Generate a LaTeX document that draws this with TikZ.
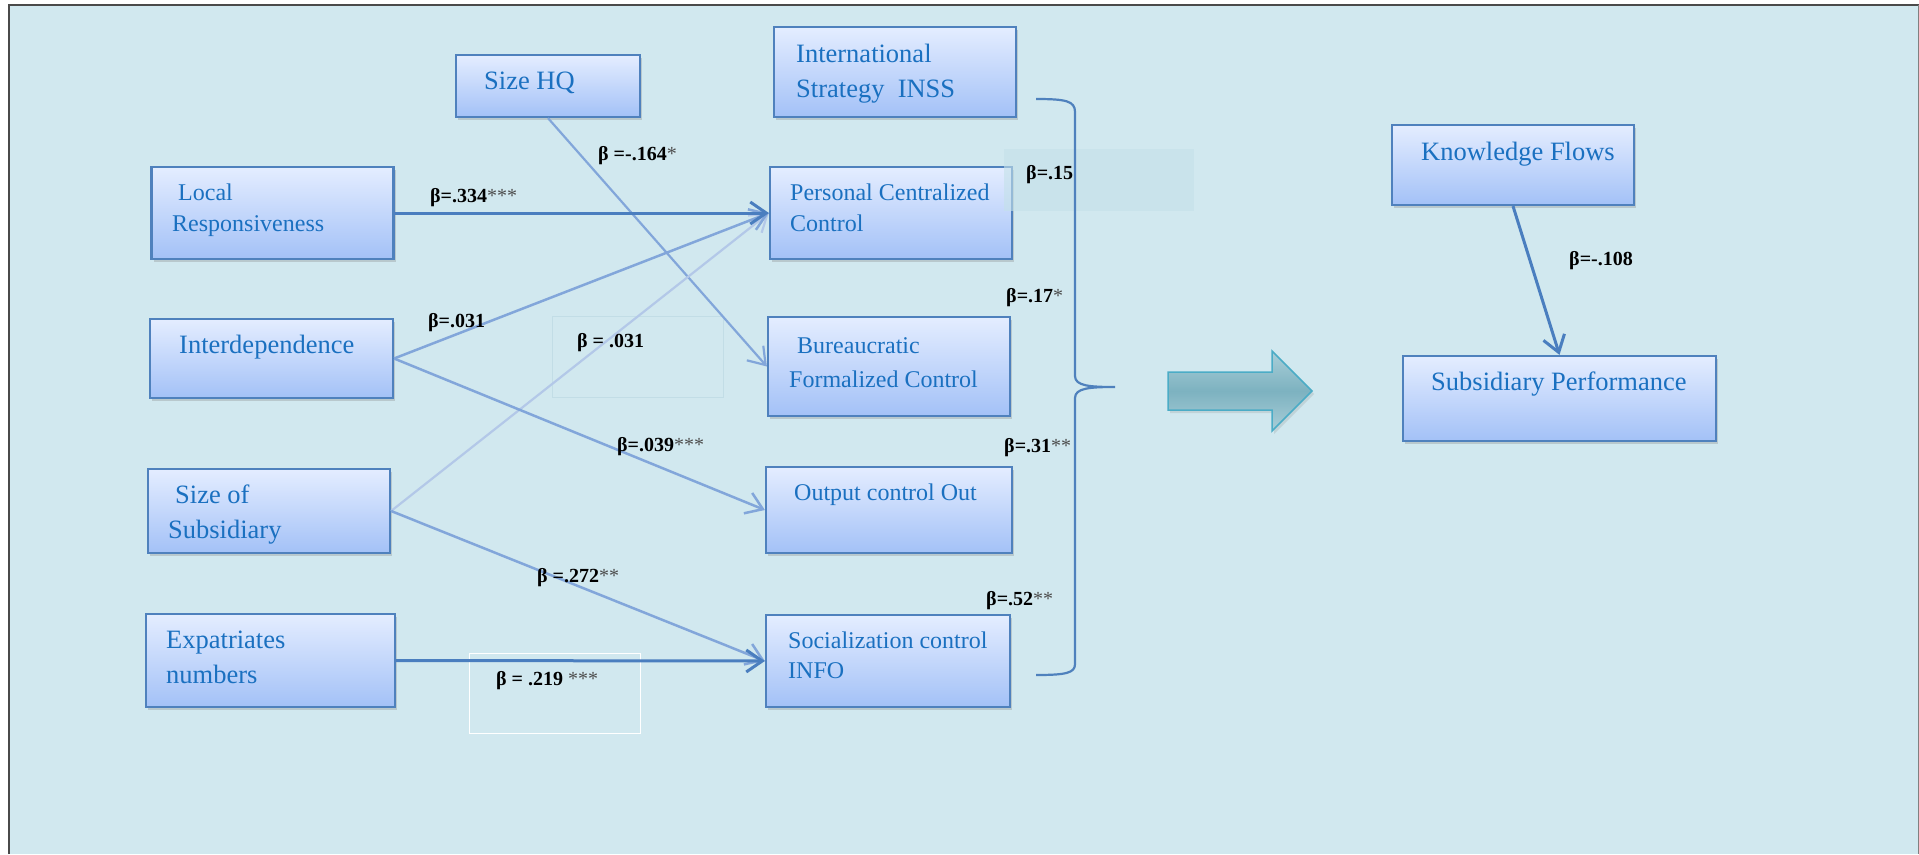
\documentclass[tikz,border=0pt]{standalone}
\usepackage{fontspec}
\setmainfont{Liberation Serif}
\usetikzlibrary{arrows.meta,shadows}
\definecolor{PanelBg}{HTML}{D1E8EF}
\definecolor{FrameGray}{HTML}{4A4A4A}
\definecolor{BoxLine}{HTML}{4F81BD}
\definecolor{BoxTop}{HTML}{E4EDFF}
\definecolor{BoxBottom}{HTML}{A3C1F7}
\definecolor{BoxText}{HTML}{1A70C0}
\definecolor{LinkDark}{HTML}{4A7EBF}
\definecolor{LinkMid}{HTML}{82A6DA}
\definecolor{LinkPale}{HTML}{B3C8E8}
\definecolor{StarGray}{HTML}{4D4D4D}
\definecolor{ArrowLine}{HTML}{4BACC6}
\definecolor{ArrowTop}{HTML}{A9CED8}
\definecolor{ArrowMid}{HTML}{7DB2C0}
\definecolor{TintBox}{HTML}{C4E1E9}
\definecolor{FaintLine}{HTML}{C2DDE6}

\begin{document}
\begin{tikzpicture}[x=1pt,y=-1pt,>={Straight Barb[length=16pt,width=22pt]}]
  \tikzstyle{cbox}=[draw=BoxLine,line width=2.2pt,top color=BoxTop,bottom color=BoxBottom,
    inner sep=0pt,drop shadow={shadow xshift=2pt,shadow yshift=-3pt,opacity=0.3}]
  \tikzstyle{ctext}=[text=BoxText,align=left,anchor=north west,inner sep=0pt]
  \tikzstyle{coef}=[anchor=base west,inner sep=0pt,font=\bfseries\fontsize{20}{24}\selectfont]
  \tikzstyle{link}=[->,line width=2.5pt]
  \useasboundingbox (0,0) rectangle (1919,854);
  % panel
  \fill[PanelBg] (9,5) rectangle (1919,854);
  \draw[line width=1.5pt,FrameGray] (9,854) -- (9,5) -- (1919,5);
  \draw[line width=1pt,gray] (1918,5) -- (1918,854);
  % boxes round some labels
  \draw[FaintLine,line width=0.8pt] (552,316) rectangle (723,397);
  \draw[white,line width=1pt] (469,653) rectangle (640,733);
  % constructs
  \node[cbox,minimum width=184pt,minimum height=62pt] (sizehq) at (548,86) {};
  \node[cbox,minimum width=242pt,minimum height=90pt] (inss) at (895,72) {};
  \node[cbox,minimum width=242pt,minimum height=92pt] (locresp) at (272.5,213) {};
  \node[cbox,minimum width=243pt,minimum height=79pt] (interdep) at (271.5,358.5) {};
  \node[cbox,minimum width=242pt,minimum height=84pt] (sizesub) at (269,511) {};
  \node[cbox,minimum width=249pt,minimum height=93pt] (expat) at (270.5,660.5) {};
  \node[cbox,minimum width=242pt,minimum height=92pt] (pcc) at (891,213) {};
  \node[cbox,minimum width=242pt,minimum height=99pt] (bfc) at (889,366.5) {};
  \node[cbox,minimum width=246pt,minimum height=86pt] (outc) at (889,510) {};
  \node[cbox,minimum width=244pt,minimum height=92pt] (socc) at (888,661) {};
  \node[cbox,minimum width=242pt,minimum height=80pt] (kflow) at (1513,165) {};
  \node[cbox,minimum width=313pt,minimum height=85pt] (subperf) at (1559.5,398.5) {};
  \fill[TintBox,opacity=0.6] (1004,149) rectangle (1194,211);
  % box texts
  \node[ctext,font=\fontsize{26.5}{35}\selectfont] (sizehq-t) at (484,72) {Size HQ};
  \node[ctext,font=\fontsize{26.5}{35}\selectfont] (inss-t) at (796,44) {International\\Strategy~~INSS};
  \node[ctext,font=\fontsize{24}{31}\selectfont] (locresp-t) at (172,184) {\hspace*{6pt}Local\\Responsiveness};
  \node[ctext,font=\fontsize{26.5}{35}\selectfont] (interdep-t) at (179,335) {Interdependence};
  \node[ctext,font=\fontsize{26.5}{35}\selectfont] (sizesub-t) at (168,485) {\hspace*{7pt}Size of\\Subsidiary};
  \node[ctext,font=\fontsize{26.5}{35}\selectfont] (expat-t) at (166,631) {Expatriates\\numbers};
  \node[ctext,font=\fontsize{24}{31}\selectfont] (pcc-t) at (790,184) {Personal Centralized\\Control};
  \node[ctext,font=\fontsize{24}{34}\selectfont] (bfc-t) at (789,337) {\hspace*{8pt}Bureaucratic\\Formalized Control};
  \node[ctext,font=\fontsize{24}{31}\selectfont] (outc-t) at (794,484) {Output control Out};
  \node[ctext,font=\fontsize{24}{30}\selectfont] (socc-t) at (788,632) {Socialization control\\INFO};
  \node[ctext,font=\fontsize{26.5}{35}\selectfont] (kflow-t) at (1421,142) {Knowledge Flows};
  \node[ctext,font=\fontsize{26.5}{35}\selectfont] (subperf-t) at (1431,372) {Subsidiary Performance};
  % paths
  \draw[link,LinkMid,line width=2.2pt] (sizehq.south) -- (bfc.west);
  \draw[link,LinkPale,line width=2.2pt] (sizesub.east) -- (pcc.west);
  \draw[link,LinkMid] (interdep.east) -- (pcc.west);
  \draw[link,LinkMid] (interdep.east) -- (outc.west);
  \draw[link,LinkMid] (sizesub.east) -- (socc.west);
  \draw[link,LinkDark,line width=3pt] (locresp.east) -- (pcc.west);
  \draw[link,LinkDark,line width=3pt] (expat.east) -- (socc.west);
  \draw[link,LinkDark,line width=3pt] (kflow.south) -- (subperf.north);
  % brace
  \draw[BoxLine,line width=2.2pt] (1036,99) .. controls (1066,99) and (1075,101) .. (1075,112)
    -- (1075,376) .. controls (1075,386) and (1090,387) .. (1115,387)
    .. controls (1090,387) and (1075,388) .. (1075,398)
    -- (1075,664) .. controls (1075,673) and (1066,675) .. (1036,675);
  % block arrow
  \draw[ArrowLine,line width=1.5pt,top color=ArrowTop,bottom color=ArrowTop,middle color=ArrowMid,
    drop shadow={shadow xshift=2pt,shadow yshift=-3pt,opacity=0.2}]
    (1168,372) -- (1272,372) -- (1272,351) -- (1312,391) -- (1272,431) -- (1272,410) -- (1168,410) -- cycle;
  % coefficients
  \node[coef] (c-lr) at (430,202) {β=.334{\mdseries\color{StarGray}***}};
  \node[coef] (c-hq) at (598,160) {β =-.164{\mdseries\color{StarGray}*}};
  \node[coef] (c-id1) at (428,327) {β=.031};
  \node[coef] (c-ss1) at (577,347) {β = .031};
  \node[coef] (c-id2) at (617,451) {β=.039{\mdseries\color{StarGray}***}};
  \node[coef] (c-ss2) at (537,582) {β =.272{\mdseries\color{StarGray}**}};
  \node[coef] (c-ex) at (496,685) {β = .219 {\mdseries\color{StarGray}***}};
  \node[coef] (c-inss) at (1026,179) {β=.15};
  \node[coef] (c-bfc) at (1006,302) {β=.17{\mdseries\color{StarGray}*}};
  \node[coef] (c-outc) at (1004,452) {β=.31{\mdseries\color{StarGray}**}};
  \node[coef] (c-socc) at (986,605) {β=.52{\mdseries\color{StarGray}**}};
  \node[coef] (c-kf) at (1569,265) {β=-.108};
\end{tikzpicture}
\end{document}
